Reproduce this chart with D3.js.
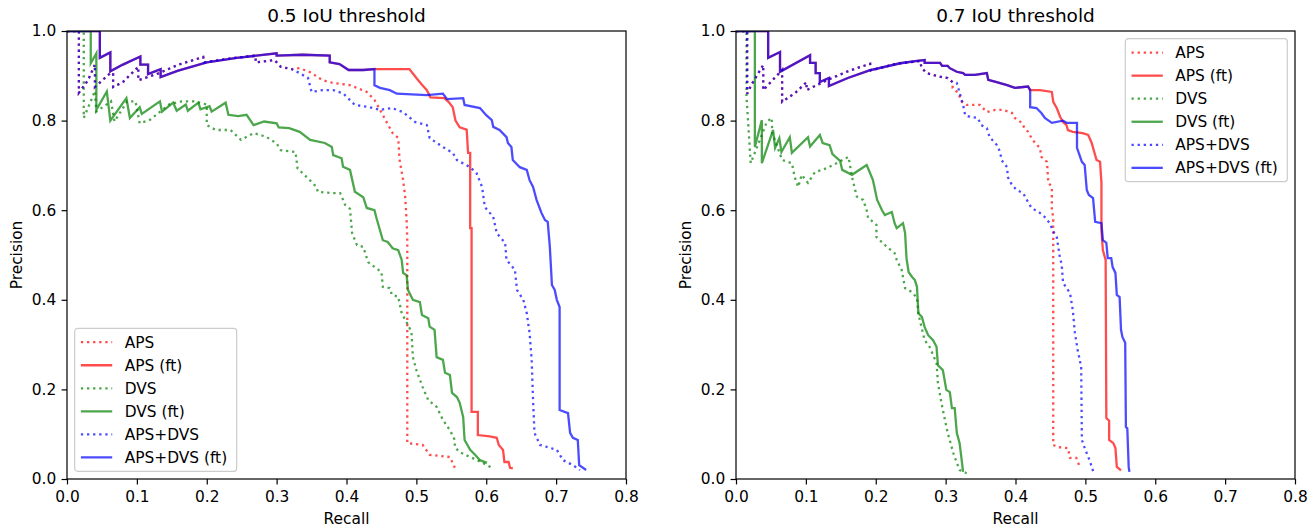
<!DOCTYPE html>
<html>
<head>
<meta charset="utf-8">
<style>
  body { margin: 0; background: #fff; }
  svg { display: block; font-family: "DejaVu Sans", sans-serif; }
</style>
</head>
<body>
<svg width="1315" height="529"></svg>
<script src="https://d3js.org/d3.v7.min.js"></script>
<script>
// ---- data (recall, precision) ----
var xTicks = [0, 0.1, 0.2, 0.3, 0.4, 0.5, 0.6, 0.7, 0.8];
var yTicks = [0, 0.2, 0.4, 0.6, 0.8, 1.0];
var seriesNames = ["APS", "APS (ft)", "DVS", "DVS (ft)", "APS+DVS", "APS+DVS (ft)"];

// 0.5 IoU: fine-tuned APS and APS+DVS share the first part of the curve
var ftHead05 = [[0,1],[0.047,1],[0.047,0.94],[0.062,0.952],[0.062,0.91],[0.08,0.925],[0.105,0.943],[0.105,0.925],
  [0.116,0.925],[0.116,0.904],[0.134,0.915],[0.134,0.897],[0.158,0.911],[0.2,0.93],[0.243,0.94],[0.3,0.95],
  [0.3,0.945],[0.337,0.947],[0.376,0.945],[0.376,0.93],[0.39,0.926],[0.403,0.913],[0.424,0.913],[0.44,0.915]];
var apsFtTail05 = [[0.49,0.915],[0.495,0.905],[0.5,0.895],[0.508,0.88],[0.515,0.868],[0.52,0.852],[0.54,0.85],
  [0.546,0.842],[0.552,0.83],[0.556,0.8],[0.562,0.785],[0.572,0.78],[0.574,0.728],[0.577,0.728],[0.577,0.56],
  [0.579,0.56],[0.579,0.15],[0.588,0.15],[0.588,0.098],[0.605,0.095],[0.615,0.092],[0.618,0.076],[0.624,0.065],
  [0.626,0.038],[0.632,0.038],[0.634,0.025],[0.638,0.024]];
var apsDvsFtTail05 = [[0.44,0.879],[0.448,0.873],[0.462,0.868],[0.472,0.86],[0.515,0.857],[0.538,0.86],[0.544,0.848],
  [0.567,0.85],[0.569,0.835],[0.591,0.828],[0.6,0.812],[0.608,0.801],[0.61,0.786],[0.619,0.779],[0.629,0.763],
  [0.631,0.75],[0.636,0.741],[0.638,0.712],[0.648,0.696],[0.658,0.69],[0.662,0.667],[0.667,0.652],[0.672,0.623],
  [0.679,0.594],[0.684,0.578],[0.688,0.574],[0.691,0.518],[0.694,0.433],[0.698,0.422],[0.701,0.4],[0.705,0.384],
  [0.705,0.154],[0.717,0.147],[0.72,0.103],[0.724,0.092],[0.731,0.087],[0.733,0.031],[0.743,0.02]];
var dotHead05 = [[0,1],[0.017,1],[0.017,0.862],[0.03,0.89],[0.04,0.925],[0.04,0.875],[0.062,0.906],[0.066,0.906],
  [0.066,0.875],[0.08,0.886],[0.102,0.92],[0.102,0.89],[0.13,0.905],[0.16,0.925],[0.195,0.942],[0.196,0.93],
  [0.24,0.94],[0.27,0.945],[0.27,0.93],[0.297,0.935],[0.306,0.92],[0.321,0.915]];
var apsTail05 = [[0.333,0.917],[0.348,0.908],[0.366,0.89],[0.381,0.884],[0.405,0.879],[0.429,0.864],[0.44,0.846],
  [0.448,0.824],[0.458,0.795],[0.466,0.772],[0.474,0.761],[0.476,0.712],[0.481,0.667],[0.484,0.63],[0.486,0.578],
  [0.487,0.533],[0.487,0.08],[0.509,0.076],[0.519,0.054],[0.548,0.049],[0.555,0.025]];
var apsDvsTail05 = [[0.333,0.906],[0.345,0.895],[0.35,0.864],[0.366,0.868],[0.381,0.868],[0.395,0.861],[0.412,0.835],
  [0.433,0.83],[0.448,0.824],[0.465,0.828],[0.481,0.819],[0.498,0.797],[0.515,0.79],[0.519,0.761],[0.538,0.741],
  [0.552,0.728],[0.558,0.712],[0.577,0.696],[0.586,0.683],[0.594,0.652],[0.598,0.607],[0.61,0.585],[0.615,0.549],
  [0.627,0.527],[0.629,0.489],[0.641,0.467],[0.644,0.422],[0.653,0.4],[0.658,0.37],[0.662,0.326],[0.665,0.266],
  [0.667,0.176],[0.669,0.103],[0.677,0.076],[0.701,0.065],[0.71,0.042],[0.724,0.031],[0.734,0.02]];
var dvsFt05 = [[0,1],[0.034,1],[0.034,0.928],[0.042,0.95],[0.042,0.824],[0.057,0.865],[0.062,0.8],[0.085,0.85],
  [0.09,0.806],[0.104,0.83],[0.107,0.815],[0.133,0.843],[0.136,0.82],[0.152,0.84],[0.157,0.822],[0.17,0.836],
  [0.173,0.822],[0.188,0.84],[0.191,0.825],[0.204,0.832],[0.207,0.82],[0.227,0.84],[0.231,0.813],[0.245,0.81],
  [0.257,0.813],[0.267,0.79],[0.282,0.798],[0.3,0.794],[0.303,0.785],[0.318,0.783],[0.333,0.775],[0.348,0.757],
  [0.369,0.75],[0.379,0.741],[0.381,0.723],[0.393,0.716],[0.395,0.697],[0.405,0.69],[0.412,0.641],[0.424,0.629],
  [0.429,0.605],[0.44,0.6],[0.443,0.582],[0.452,0.533],[0.459,0.529],[0.466,0.515],[0.474,0.511],[0.479,0.489],
  [0.481,0.46],[0.486,0.455],[0.488,0.422],[0.495,0.4],[0.505,0.395],[0.508,0.366],[0.517,0.359],[0.519,0.34],
  [0.526,0.333],[0.529,0.272],[0.538,0.266],[0.541,0.237],[0.548,0.232],[0.551,0.192],[0.558,0.183],[0.562,0.17],
  [0.567,0.138],[0.569,0.087],[0.577,0.065],[0.584,0.054],[0.591,0.042],[0.601,0.036]];
var dvs05 = [[0,1],[0.024,1],[0.024,0.806],[0.04,0.866],[0.042,0.82],[0.063,0.843],[0.068,0.798],[0.086,0.843],
  [0.098,0.843],[0.104,0.794],[0.119,0.802],[0.146,0.836],[0.164,0.843],[0.182,0.843],[0.2,0.836],[0.2,0.79],
  [0.213,0.779],[0.234,0.779],[0.249,0.757],[0.267,0.772],[0.285,0.764],[0.3,0.749],[0.306,0.734],[0.327,0.73],
  [0.33,0.693],[0.343,0.674],[0.357,0.652],[0.359,0.641],[0.381,0.638],[0.391,0.638],[0.398,0.612],[0.405,0.603],
  [0.408,0.549],[0.415,0.522],[0.424,0.518],[0.431,0.484],[0.45,0.462],[0.452,0.429],[0.462,0.426],[0.465,0.411],
  [0.474,0.407],[0.479,0.37],[0.488,0.344],[0.493,0.328],[0.495,0.272],[0.5,0.243],[0.509,0.205],[0.517,0.176],
  [0.529,0.161],[0.538,0.132],[0.548,0.109],[0.555,0.087],[0.555,0.071],[0.562,0.06],[0.577,0.049],[0.587,0.042],
  [0.595,0.036],[0.608,0.025]];

// 0.7 IoU
var ftHead07 = [[0,1],[0.046,1],[0.046,0.94],[0.063,0.953],[0.063,0.909],[0.106,0.946],[0.106,0.929],[0.114,0.929],
  [0.114,0.906],[0.12,0.906],[0.12,0.886],[0.133,0.895],[0.133,0.877],[0.16,0.895],[0.191,0.912],[0.235,0.928],
  [0.262,0.934],[0.27,0.935],[0.27,0.929],[0.292,0.929],[0.295,0.922],[0.303,0.922],[0.306,0.917],[0.316,0.909],
  [0.325,0.906],[0.328,0.902],[0.342,0.902],[0.359,0.906],[0.361,0.891],[0.373,0.886],[0.388,0.879],[0.399,0.873],
  [0.418,0.876],[0.421,0.868]];
var apsFtTail07 = [[0.435,0.868],[0.452,0.864],[0.454,0.842],[0.459,0.828],[0.464,0.808],[0.468,0.797],[0.473,0.79],
  [0.475,0.779],[0.482,0.775],[0.496,0.772],[0.504,0.768],[0.506,0.761],[0.509,0.75],[0.516,0.712],[0.521,0.708],
  [0.523,0.661],[0.523,0.556],[0.525,0.511],[0.529,0.489],[0.53,0.136],[0.534,0.13],[0.534,0.087],[0.54,0.08],
  [0.543,0.069],[0.545,0.027],[0.551,0.019]];
var apsDvsFtTail07 = [[0.421,0.83],[0.43,0.828],[0.437,0.817],[0.442,0.806],[0.452,0.795],[0.468,0.8],[0.473,0.795],
  [0.488,0.795],[0.488,0.739],[0.495,0.708],[0.499,0.701],[0.502,0.645],[0.505,0.634],[0.511,0.627],[0.514,0.574],
  [0.523,0.571],[0.525,0.533],[0.53,0.527],[0.532,0.493],[0.537,0.493],[0.539,0.473],[0.543,0.46],[0.545,0.411],
  [0.549,0.406],[0.551,0.333],[0.553,0.317],[0.557,0.304],[0.558,0.116],[0.56,0.113],[0.562,0.027],[0.563,0.016]];
var dotHead07 = [[0,1],[0.016,1],[0.016,0.86],[0.022,0.88],[0.039,0.924],[0.039,0.868],[0.066,0.913],[0.066,0.842],
  [0.085,0.862],[0.101,0.886],[0.101,0.868],[0.13,0.89],[0.16,0.91],[0.192,0.927],[0.193,0.912],[0.23,0.927],
  [0.263,0.933],[0.266,0.917],[0.273,0.906],[0.282,0.902],[0.295,0.897],[0.303,0.895],[0.31,0.886]];
var apsTail07 = [[0.31,0.873],[0.318,0.862],[0.323,0.842],[0.33,0.835],[0.349,0.835],[0.359,0.819],[0.371,0.824],
  [0.382,0.824],[0.395,0.817],[0.399,0.806],[0.409,0.795],[0.413,0.783],[0.418,0.775],[0.423,0.761],[0.428,0.75],
  [0.435,0.739],[0.437,0.719],[0.445,0.708],[0.447,0.661],[0.452,0.652],[0.452,0.6],[0.454,0.585],[0.454,0.076],
  [0.461,0.071],[0.475,0.069],[0.478,0.047],[0.487,0.047],[0.492,0.027]];
var apsDvsTail07 = [[0.316,0.884],[0.32,0.862],[0.325,0.835],[0.328,0.812],[0.335,0.808],[0.346,0.806],[0.351,0.79],
  [0.359,0.783],[0.363,0.763],[0.373,0.746],[0.378,0.73],[0.38,0.712],[0.388,0.696],[0.389,0.674],[0.395,0.656],
  [0.402,0.645],[0.411,0.638],[0.418,0.618],[0.423,0.605],[0.435,0.594],[0.443,0.583],[0.449,0.571],[0.454,0.553],
  [0.459,0.54],[0.461,0.52],[0.464,0.489],[0.466,0.482],[0.468,0.438],[0.478,0.415],[0.482,0.377],[0.485,0.326],
  [0.489,0.288],[0.494,0.25],[0.495,0.087],[0.5,0.065],[0.506,0.042],[0.512,0.013]];
var dvsFt07 = [[0,1],[0.027,1],[0.027,0.741],[0.037,0.801],[0.037,0.705],[0.053,0.779],[0.056,0.739],[0.062,0.761],
  [0.065,0.73],[0.077,0.763],[0.08,0.728],[0.103,0.763],[0.106,0.742],[0.12,0.768],[0.124,0.75],[0.134,0.745],
  [0.138,0.725],[0.149,0.71],[0.152,0.69],[0.166,0.679],[0.187,0.701],[0.196,0.667],[0.202,0.623],[0.209,0.6],
  [0.213,0.589],[0.223,0.596],[0.227,0.571],[0.23,0.56],[0.239,0.571],[0.242,0.549],[0.244,0.493],[0.247,0.462],
  [0.252,0.451],[0.256,0.444],[0.259,0.429],[0.261,0.37],[0.266,0.362],[0.27,0.339],[0.275,0.321],[0.282,0.31],
  [0.287,0.295],[0.289,0.254],[0.296,0.243],[0.301,0.199],[0.306,0.194],[0.309,0.158],[0.313,0.158],[0.316,0.103],
  [0.32,0.08],[0.323,0.042],[0.325,0.016]];
var dvs07 = [[0,1],[0.015,1],[0.015,0.855],[0.021,0.705],[0.037,0.768],[0.044,0.797],[0.051,0.806],[0.052,0.772],
  [0.066,0.712],[0.08,0.705],[0.084,0.674],[0.089,0.652],[0.094,0.679],[0.103,0.661],[0.113,0.685],[0.13,0.694],
  [0.144,0.705],[0.161,0.719],[0.167,0.667],[0.173,0.63],[0.182,0.623],[0.187,0.6],[0.189,0.583],[0.201,0.567],
  [0.201,0.54],[0.216,0.518],[0.227,0.504],[0.23,0.489],[0.237,0.467],[0.242,0.426],[0.252,0.417],[0.259,0.404],
  [0.261,0.37],[0.263,0.355],[0.27,0.31],[0.277,0.295],[0.287,0.259],[0.289,0.214],[0.294,0.17],[0.299,0.132],
  [0.303,0.103],[0.311,0.058],[0.316,0.036],[0.32,0.02],[0.33,0.013]];

// series order matches the legend (blue drawn last, over red)
var curves05 = [dotHead05.concat(apsTail05), ftHead05.concat(apsFtTail05), dvs05, dvsFt05,
                dotHead05.concat(apsDvsTail05), ftHead05.concat(apsDvsFtTail05)];
var curves07 = [dotHead07.concat(apsTail07), ftHead07.concat(apsFtTail07), dvs07, dvsFt07,
                dotHead07.concat(apsDvsTail07), ftHead07.concat(apsDvsFtTail07)];

// ---- styles ----
var colors = ["#ff0000", "#ff0000", "#008000", "#008000", "#0000ff", "#0000ff"];
var dotted = [true, false, true, false, true, false];
var lw = 2.3, dash = "2.3,3.8", fs = 15.4;

var svg = d3.select("svg");
var plotTop = 31, plotBottom = 479;

var panels = [
  {x0: 67, x1: 626, title: "0.5 IoU threshold", curves: curves05, legend: "lower left", id: "c0"},
  {x0: 736, x1: 1295, title: "0.7 IoU threshold", curves: curves07, legend: "upper right", id: "c1"}
];

var fmt = d3.format(".1f");

panels.forEach(function (p) {
  var x = d3.scaleLinear().domain([0, 0.8]).range([p.x0, p.x1]);
  var y = d3.scaleLinear().domain([0, 1]).range([plotBottom, plotTop]);

  svg.append("clipPath").attr("id", p.id)
    .append("rect")
    .attr("x", p.x0).attr("y", plotTop)
    .attr("width", p.x1 - p.x0).attr("height", plotBottom - plotTop);

  var line = d3.line()
    .x(function (d) { return x(d[0]); })
    .y(function (d) { return y(d[1]); });

  var g = svg.append("g").attr("clip-path", "url(#" + p.id + ")");
  p.curves.forEach(function (c, i) {
    g.append("path")
      .datum(c)
      .attr("fill", "none")
      .attr("stroke", colors[i])
      .attr("stroke-opacity", 0.7)
      .attr("stroke-width", lw)
      .attr("stroke-dasharray", dotted[i] ? dash : null)
      .attr("d", line);
  });

  // axes
  var xAxis = svg.append("g")
    .attr("transform", "translate(0," + plotBottom + ")")
    .call(d3.axisBottom(x).tickValues(xTicks).tickFormat(fmt).tickSizeInner(5.4).tickSizeOuter(0).tickPadding(5.4));
  var yAxis = svg.append("g")
    .attr("transform", "translate(" + p.x0 + ",0)")
    .call(d3.axisLeft(y).tickValues(yTicks).tickFormat(fmt).tickSizeInner(5.4).tickSizeOuter(0).tickPadding(5.4));
  [xAxis, yAxis].forEach(function (a) {
    a.select(".domain").remove();
    a.selectAll(".tick line").attr("stroke", "#000").attr("stroke-width", 1.2);
    a.selectAll(".tick text").attr("fill", "#000")
      .style("font-family", "DejaVu Sans").style("font-size", fs + "px");
  });
  xAxis.selectAll(".tick text").attr("dy", "0.76em");

  // frame
  svg.append("rect")
    .attr("x", p.x0).attr("y", plotTop)
    .attr("width", p.x1 - p.x0).attr("height", plotBottom - plotTop)
    .attr("fill", "none").attr("stroke", "#000").attr("stroke-width", 1.2);

  svg.append("text")
    .attr("x", (p.x0 + p.x1) / 2).attr("y", 22)
    .attr("text-anchor", "middle")
    .style("font-size", "18.5px")
    .text(p.title);

  svg.append("text")
    .attr("x", (p.x0 + p.x1) / 2).attr("y", 524)
    .attr("text-anchor", "middle")
    .style("font-size", fs + "px")
    .text("Recall");

  svg.append("text")
    .attr("transform", "translate(" + (p.x0 - 45.5) + "," + ((plotTop + plotBottom) / 2) + ") rotate(-90)")
    .attr("text-anchor", "middle")
    .style("font-size", fs + "px")
    .text("Precision");

  // legend
  var lwid = 162, lhgt = 143, pad = 7.7;
  var lx = p.legend === "lower left" ? p.x0 + pad : p.x1 - pad - lwid;
  var ly = p.legend === "lower left" ? plotBottom - pad - lhgt : plotTop + pad;
  var leg = svg.append("g").attr("transform", "translate(" + lx + "," + ly + ")");
  leg.append("rect")
    .attr("width", lwid).attr("height", lhgt)
    .attr("rx", 3).attr("ry", 3)
    .attr("fill", "#fff").attr("fill-opacity", 0.8)
    .attr("stroke", "#cccccc").attr("stroke-width", 1.2);
  seriesNames.forEach(function (name, i) {
    var cy = 13.9 + i * 23.05;
    leg.append("line")
      .attr("x1", 6.2).attr("x2", 37.5)
      .attr("y1", cy).attr("y2", cy)
      .attr("stroke", colors[i]).attr("stroke-opacity", 0.7)
      .attr("stroke-width", lw)
      .attr("stroke-dasharray", dotted[i] ? dash : null);
    leg.append("text")
      .attr("x", 50).attr("y", cy).attr("dy", "0.36em")
      .style("font-size", fs + "px")
      .text(name);
  });
});
</script>
</body>
</html>
